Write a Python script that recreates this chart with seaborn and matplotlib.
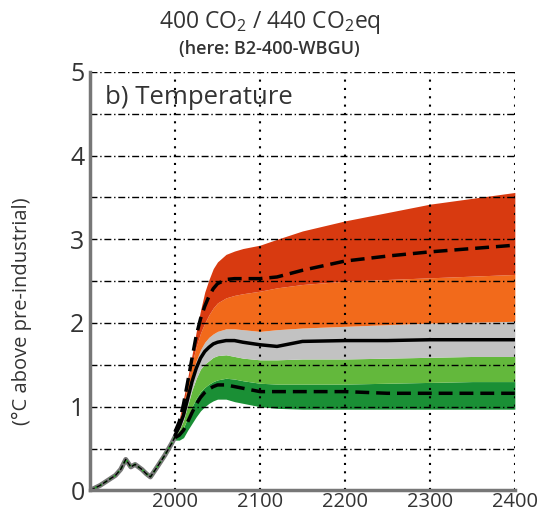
import seaborn as sns
import matplotlib
matplotlib.use("Agg")
import matplotlib.pyplot as plt
import numpy as np
import pandas as pd

# --- data ---
years = [2000, 2005, 2010, 2015, 2020, 2025, 2030, 2035, 2040, 2045, 2050, 2060, 2070,
         2080, 2100, 2120, 2150, 2200, 2250, 2300, 2350, 2400]
# band edges, bottom to top
dark_green_low = [0.60, 0.60, 0.63, 0.72, 0.80, 0.88, 0.95, 1.00, 1.04, 1.07, 1.09, 1.09,
                  1.06, 1.04, 1.00, 0.98, 0.97, 0.97, 0.97, 0.97, 0.97, 0.97]
light_green_low = [0.62, 0.67, 0.75, 0.87, 1.00, 1.10, 1.18, 1.23, 1.27, 1.30, 1.32, 1.34,
                   1.33, 1.31, 1.28, 1.27, 1.27, 1.27, 1.28, 1.29, 1.30, 1.30]
grey_low = [0.65, 0.72, 0.84, 1.02, 1.20, 1.34, 1.45, 1.51, 1.55, 1.59, 1.61, 1.62,
            1.60, 1.58, 1.56, 1.56, 1.57, 1.57, 1.58, 1.59, 1.60, 1.60]
orange_low = [0.68, 0.78, 0.95, 1.17, 1.38, 1.55, 1.68, 1.77, 1.83, 1.87, 1.90, 1.93,
              1.93, 1.92, 1.90, 1.92, 1.94, 1.96, 1.98, 2.00, 2.01, 2.02]
red_low = [0.70, 0.82, 1.02, 1.28, 1.52, 1.72, 1.88, 2.00, 2.10, 2.18, 2.24, 2.30,
           2.33, 2.35, 2.38, 2.42, 2.46, 2.50, 2.52, 2.54, 2.56, 2.58]
red_high = [0.72, 0.85, 1.10, 1.35, 1.62, 1.90, 2.15, 2.37, 2.52, 2.65, 2.73, 2.82,
            2.86, 2.89, 2.93, 3.00, 3.10, 3.22, 3.32, 3.42, 3.49, 3.56]
median = [0.66, 0.76, 0.90, 1.10, 1.30, 1.46, 1.58, 1.66, 1.71, 1.75, 1.77, 1.79,
          1.79, 1.77, 1.74, 1.72, 1.78, 1.79, 1.79, 1.80, 1.80, 1.80]
upper_dash = [0.70, 0.82, 1.03, 1.30, 1.58, 1.85, 2.05, 2.20, 2.32, 2.41, 2.47, 2.52,
              2.53, 2.53, 2.53, 2.55, 2.63, 2.74, 2.80, 2.85, 2.89, 2.93]
lower_dash = [0.63, 0.66, 0.72, 0.82, 0.93, 1.03, 1.11, 1.17, 1.21, 1.24, 1.26, 1.26,
              1.24, 1.22, 1.18, 1.18, 1.18, 1.18, 1.16, 1.16, 1.16, 1.16]

hist_years = [1900, 1904, 1912, 1921, 1930, 1936, 1942, 1948, 1953, 1961, 1966, 1971,
              1979, 1988, 1996, 2000]
hist_temp = [0.00, 0.02, 0.06, 0.12, 0.18, 0.25, 0.37, 0.28, 0.31, 0.25, 0.20, 0.16,
             0.28, 0.42, 0.56, 0.64]

band_colors = ['#1a8f35', '#63b83c', '#c2c2c2', '#f26a1b', '#d83a10']
xticks = [2000, 2100, 2200, 2300, 2400]
yticks = [0, 1, 2, 3, 4, 5]

sns.set_style("white")
plt.rcParams['font.family'] = ['Open Sans', 'DejaVu Sans']
plt.rcParams['mathtext.fontset'] = 'custom'
plt.rcParams['mathtext.rm'] = 'Open Sans'
plt.rcParams['mathtext.it'] = 'Open Sans'
txt = '#333333'

fig = plt.figure(figsize=(5.56, 5.14), dpi=100)
ax = fig.add_axes([0.162, 0.046, 0.764, 0.814])

edges = [dark_green_low, light_green_low, grey_low, orange_low, red_low, red_high]
for k, c in enumerate(band_colors):
    ax.fill_between(years, edges[k], edges[k + 1], color=c, lw=0, zorder=1)

lines = pd.DataFrame({'year': years, 'median': median,
                      'upper': upper_dash, 'lower': lower_dash})
hist = pd.DataFrame({'year': hist_years, 'temp': hist_temp})

sns.lineplot(data=hist, x='year', y='temp', color='#777777', lw=3.5, ax=ax, zorder=3)
sns.lineplot(data=hist, x='year', y='temp', color='#2aa02a', lw=1.5, ls=':', ax=ax, zorder=3)
sns.lineplot(data=hist, x='year', y='temp', color='black', lw=1.0, ls='--', ax=ax, zorder=3)
sns.lineplot(data=lines, x='year', y='median', color='black', lw=2.5, ax=ax, zorder=4)
sns.lineplot(data=lines, x='year', y='upper', color='black', lw=2.5, ax=ax, zorder=4,
             linestyle=(0, (4, 2)))
sns.lineplot(data=lines, x='year', y='lower', color='black', lw=2.5, ax=ax, zorder=4,
             linestyle=(0, (4, 2)))

ax.set_xlim(1900, 2400)
ax.set_ylim(0, 5)
ax.set_xticks(xticks)
ax.set_xticklabels([str(v) for v in xticks], fontsize=14.5, color=txt)
ax.set_yticks(yticks)
ax.set_yticklabels([str(v) for v in yticks], fontsize=18, color=txt)
ax.set_yticks(np.arange(0.5, 5, 1.0), minor=True)
ax.tick_params(axis='both', which='both', length=0, pad=4)
ax.tick_params(axis='x', pad=1)
ax.set_xlabel('')
ax.set_ylabel('')

# grid drawn over the bands
ax.set_axisbelow(False)
ax.yaxis.grid(True, which='both', color='black', lw=1.0, ls=(0, (5, 2, 1, 2)), zorder=2)
ax.xaxis.grid(True, which='major', color='black', lw=1.5, ls=(0, (1, 3)), zorder=2)

for s in ['top', 'right']:
    ax.spines[s].set_visible(False)
for s in ['left', 'bottom']:
    ax.spines[s].set_color('#777777')
    ax.spines[s].set_linewidth(2.5)
    ax.spines[s].set_zorder(5)

ax.text(0.035, 0.97, 'b) Temperature', transform=ax.transAxes, fontsize=18.5,
        color=txt, va='top', ha='left')
fig.text(0.485, 0.957, r'400 CO$_2$ / 440 CO$_2$eq', fontsize=16.5, color=txt,
         ha='center', va='center')
fig.text(0.485, 0.905, '(here: B2-400-WBGU)', fontsize=13, color=txt,
         ha='center', va='center', fontweight='semibold')
fig.text(0.04, 0.395, '(\u00b0C above pre-industrial)', fontsize=14.5, color=txt,
         rotation=90, ha='center', va='center')

fig.savefig('out.png', dpi=100)
